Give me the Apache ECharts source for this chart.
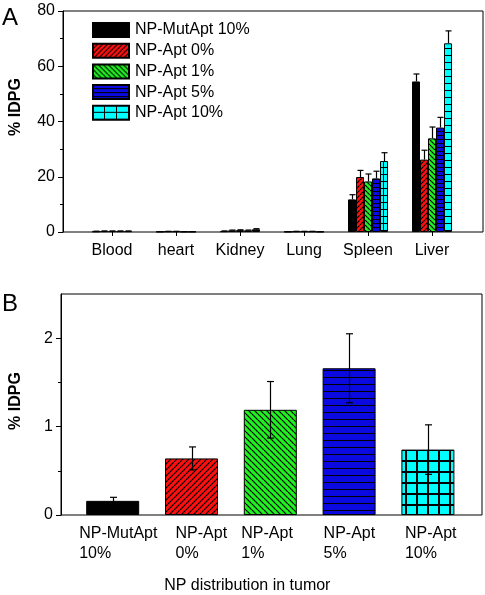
<!DOCTYPE html>
<html><head><meta charset="utf-8">
<script src="https://cdn.jsdelivr.net/npm/echarts@6/dist/echarts.min.js"></script>
<style>html,body{margin:0;padding:0;background:#fff}#c{width:485px;height:595px}</style>
</head><body><div id="c"></div>
<script>
// ---------- data ----------
const organs = ['Blood', 'heart', 'Kidney', 'Lung', 'Spleen', 'Liver'];
const seriesNames = ['NP-MutApt 10%', 'NP-Apt 0%', 'NP-Apt 1%', 'NP-Apt 5%', 'NP-Apt 10%'];
const mutApt10 = [0.2, 0.1, 0.3, 0.1, 11.8, 54.5];
const mutApt10Err = [0.1, 0.05, 0.1, 0.05, 1.7, 2.7];
const apt0 = [0.3, 0.2, 0.6, 0.2, 19.9, 26.2];
const apt0Err = [0.1, 0.05, 0.1, 0.05, 2.4, 3.4];
const apt1 = [0.3, 0.2, 0.7, 0.2, 18.3, 33.9];
const apt1Err = [0.1, 0.05, 0.1, 0.05, 2.7, 4.1];
const apt5 = [0.3, 0.1, 0.6, 0.2, 19.4, 37.8];
const apt5Err = [0.1, 0.05, 0.1, 0.05, 2.6, 3.7];
const apt10 = [0.3, 0.1, 1.0, 0.1, 25.7, 68.3];
const apt10Err = [0.1, 0.05, 0.2, 0.05, 3.0, 4.5];
const yTicksA = [0, 20, 40, 60, 80];

const groupsB = ['NP-MutApt\n10%', 'NP-Apt\n0%', 'NP-Apt\n1%', 'NP-Apt\n5%', 'NP-Apt\n10%'];
const tumorVals = [0.16, 0.64, 1.19, 1.66, 0.74];
const tumorErr = [0.04, 0.13, 0.32, 0.39, 0.28];
const yTicksB = [0, 1, 2];
const yMinorB = [0.5, 1.5];

// ---------- patterns ----------
function pat(w, h, bg, draw) {
  const c = document.createElement('canvas'); c.width = w; c.height = h;
  const g = c.getContext('2d'); g.fillStyle = bg; g.fillRect(0, 0, w, h);
  g.strokeStyle = '#000'; g.fillStyle = '#000'; draw(g, w, h);
  return { image: c, repeat: 'repeat' };
}
const diagUp = lw => (g, w, h) => { g.lineWidth = lw; g.beginPath();
  g.moveTo(0, h); g.lineTo(w, 0); g.moveTo(-w, h); g.lineTo(0, 0); g.moveTo(w, h); g.lineTo(2 * w, 0); g.stroke(); };
const diagDown = lw => (g, w, h) => { g.lineWidth = lw; g.beginPath();
  g.moveTo(0, 0); g.lineTo(w, h); g.moveTo(-w, 0); g.lineTo(0, h); g.moveTo(w, 0); g.lineTo(2 * w, h); g.stroke(); };
const horiz = lw => (g, w, h) => { g.fillRect(0, h - lw, w, lw); };
const gridP = lw => (g, w, h) => { g.fillRect(0, h - lw, w, lw); g.fillRect(w - lw, 0, lw, h); };

const RED = '#ff1010', GREEN = '#22f022', BLUE = '#0a0ae0', CYAN = '#00ffff';
const fillsA = [
  '#000000',
  pat(5, 5, RED, diagUp(1.1)),
  pat(5, 5, GREEN, diagDown(1.1)),
  pat(4, 4, BLUE, horiz(1)),
  pat(12, 7, CYAN, gridP(1))
];
const fillsB = [
  '#000000',
  pat(6, 6, RED, diagUp(1.2)),
  pat(6, 6, GREEN, diagDown(1.2)),
  pat(7, 7, BLUE, horiz(1)),
  pat(11, 11, CYAN, gridP(2))
];

// ---------- helpers ----------
const FONT = "'Liberation Sans', Arial, sans-serif";
const blk = { color: '#000', width: 1 };
function errRenderer(offset, capHalf, both) {
  return function (params, api) {
    const c = api.value(0), v = api.value(1), e = api.value(2);
    const p1 = api.coord([c, v + e]);
    const p0 = api.coord([c, both ? v - e : v]);
    const x = Math.round(p1[0] + offset) + 0.5;
    const st = { stroke: '#000', lineWidth: 1.2 };
    const ch = [
      { type: 'line', shape: { x1: x, y1: p0[1], x2: x, y2: p1[1] }, style: st },
      { type: 'line', shape: { x1: x - capHalf, y1: p1[1], x2: x + capHalf, y2: p1[1] }, style: st }
    ];
    if (both) ch.push({ type: 'line', shape: { x1: x - capHalf, y1: p0[1], x2: x + capHalf, y2: p0[1] }, style: st });
    return { type: 'group', children: ch };
  };
}

const valsA = [mutApt10, apt0, apt1, apt5, apt10];
const errsA = [mutApt10Err, apt0Err, apt1Err, apt5Err, apt10Err];
const BW_A = 8;

const series = [];
valsA.forEach((vals, i) => {
  series.push({
    name: seriesNames[i], type: 'bar', xAxisIndex: 1, yAxisIndex: 1,
    barWidth: BW_A, barGap: '0%', data: vals,
    itemStyle: { color: fillsA[i], borderColor: '#000', borderWidth: 1 }
  });
});
valsA.forEach((vals, i) => {
  series.push({
    name: 'errA' + i, type: 'custom', xAxisIndex: 1, yAxisIndex: 1, z: 5,
    renderItem: errRenderer((i - 2) * BW_A, 3, false),
    encode: { x: 0, y: 1 },
    data: vals.map((v, j) => [j, v, errsA[i][j]])
  });
});
series.push({
  name: 'tumor', type: 'bar', xAxisIndex: 3, yAxisIndex: 4, barWidth: 53,
  data: tumorVals.map((v, i) => ({ value: v, itemStyle: { color: fillsB[i], borderColor: '#000', borderWidth: 1 } }))
});
series.push({
  name: 'tumorErr', type: 'custom', xAxisIndex: 3, yAxisIndex: 4, z: 5,
  renderItem: errRenderer(0, 3.5, true), encode: { x: 0, y: 1 },
  data: tumorVals.map((v, i) => [i, v, tumorErr[i]])
});

// label block widths (left-aligned text inside a centred block)
const labelRich = {};
[67, 32, 58, 51, 46].forEach((w, i) => {
  labelRich['a' + i] = { width: w, align: 'left', fontSize: 16, lineHeight: 20, fontFamily: FONT, color: '#000' };
});

const option = {
  animation: false,
  textStyle: { fontFamily: FONT, color: '#000' },
  title: [
    { text: 'A', left: 2, top: 6, padding: 0, textStyle: { fontFamily: FONT, fontSize: 24, fontWeight: 'normal', color: '#000' } },
    { text: 'B', left: 2, top: 292, padding: 0, textStyle: { fontFamily: FONT, fontSize: 24, fontWeight: 'normal', color: '#000' } }
  ],
  legend: {
    data: seriesNames, orient: 'vertical', left: 92, top: 22, padding: 0,
    itemWidth: 36, itemHeight: 14, itemGap: 4.7, icon: 'rect',
    textStyle: { fontFamily: FONT, fontSize: 16, lineHeight: 16, color: '#000', padding: [0, 0, 0, 1] }
  },
  grid: [
    { left: 60, top: 11, width: 423, height: 221, show: true, borderColor: '#000', borderWidth: 1, backgroundColor: 'transparent' },
    { left: 80, top: 11, width: 384, height: 221 },
    { left: 60, top: 294, width: 422, height: 221, show: true, borderColor: '#000', borderWidth: 1, backgroundColor: 'transparent' },
    { left: 73.3, top: 294, width: 394, height: 221 }
  ],
  xAxis: [
    { gridIndex: 0, type: 'value', show: false },
    { gridIndex: 1, type: 'category', data: organs, axisLine: { show: false },
      axisTick: { show: true, alignWithLabel: true, length: 4, lineStyle: blk },
      axisLabel: { margin: 11, fontSize: 16, color: '#000', fontFamily: FONT, interval: 0 } },
    { gridIndex: 2, type: 'value', show: false },
    { gridIndex: 3, type: 'category', data: groupsB, axisLine: { show: false }, axisTick: { show: false },
      axisLabel: { margin: 9, interval: 0, color: '#000', align: 'center',
        formatter: (v, i) => v.split('\n').map(s => '{a' + i + '|' + s + '}').join('\n'),
        rich: labelRich },
      name: 'NP distribution in tumor', nameLocation: 'middle', nameGap: 63,
      nameTextStyle: { fontSize: 16, fontFamily: FONT, color: '#000', padding: [0, 46, 0, 0] } }
  ],
  yAxis: [
    { gridIndex: 0, type: 'value', min: yTicksA[0], max: yTicksA[yTicksA.length - 1], interval: 20,
      axisLine: { show: true, lineStyle: blk }, axisTick: { show: true, length: 5, lineStyle: blk },
      minorTick: { show: true, splitNumber: 2, length: 3, lineStyle: blk }, splitLine: { show: false },
      axisLabel: { margin: 8, fontSize: 16, color: '#000', fontFamily: FONT },
      name: '% IDPG', nameLocation: 'middle', nameGap: 39,
      nameTextStyle: { fontWeight: 'bold', fontSize: 16, fontFamily: FONT, color: '#000', padding: [0, 0, 0, 29] } },
    { gridIndex: 1, type: 'value', min: 0, max: 80, show: false },
    { gridIndex: 2, type: 'value', min: 0, max: 2.5, position: 'left',
      axisLine: { show: true, lineStyle: blk },
      axisTick: { show: true, length: 5, lineStyle: blk, customValues: yTicksB },
      splitLine: { show: false },
      axisLabel: { margin: 8, fontSize: 16, color: '#000', fontFamily: FONT, customValues: yTicksB },
      name: '% IDPG', nameLocation: 'middle', nameGap: 37,
      nameTextStyle: { fontWeight: 'bold', fontSize: 16, fontFamily: FONT, color: '#000', padding: [0, 0, 0, 7] } },
    { gridIndex: 2, type: 'value', min: 0, max: 2.5, position: 'left', offset: 0,
      axisLine: { show: false }, splitLine: { show: false },
      axisLabel: { show: false }, axisTick: { show: true, length: 3, lineStyle: blk, customValues: yMinorB } },
    { gridIndex: 3, type: 'value', min: 0, max: 2.5, show: false }
  ],
  series: series
};
const chart = echarts.init(document.getElementById('c'), null, { renderer: 'canvas' });
chart.setOption(option);
</script></body></html>
